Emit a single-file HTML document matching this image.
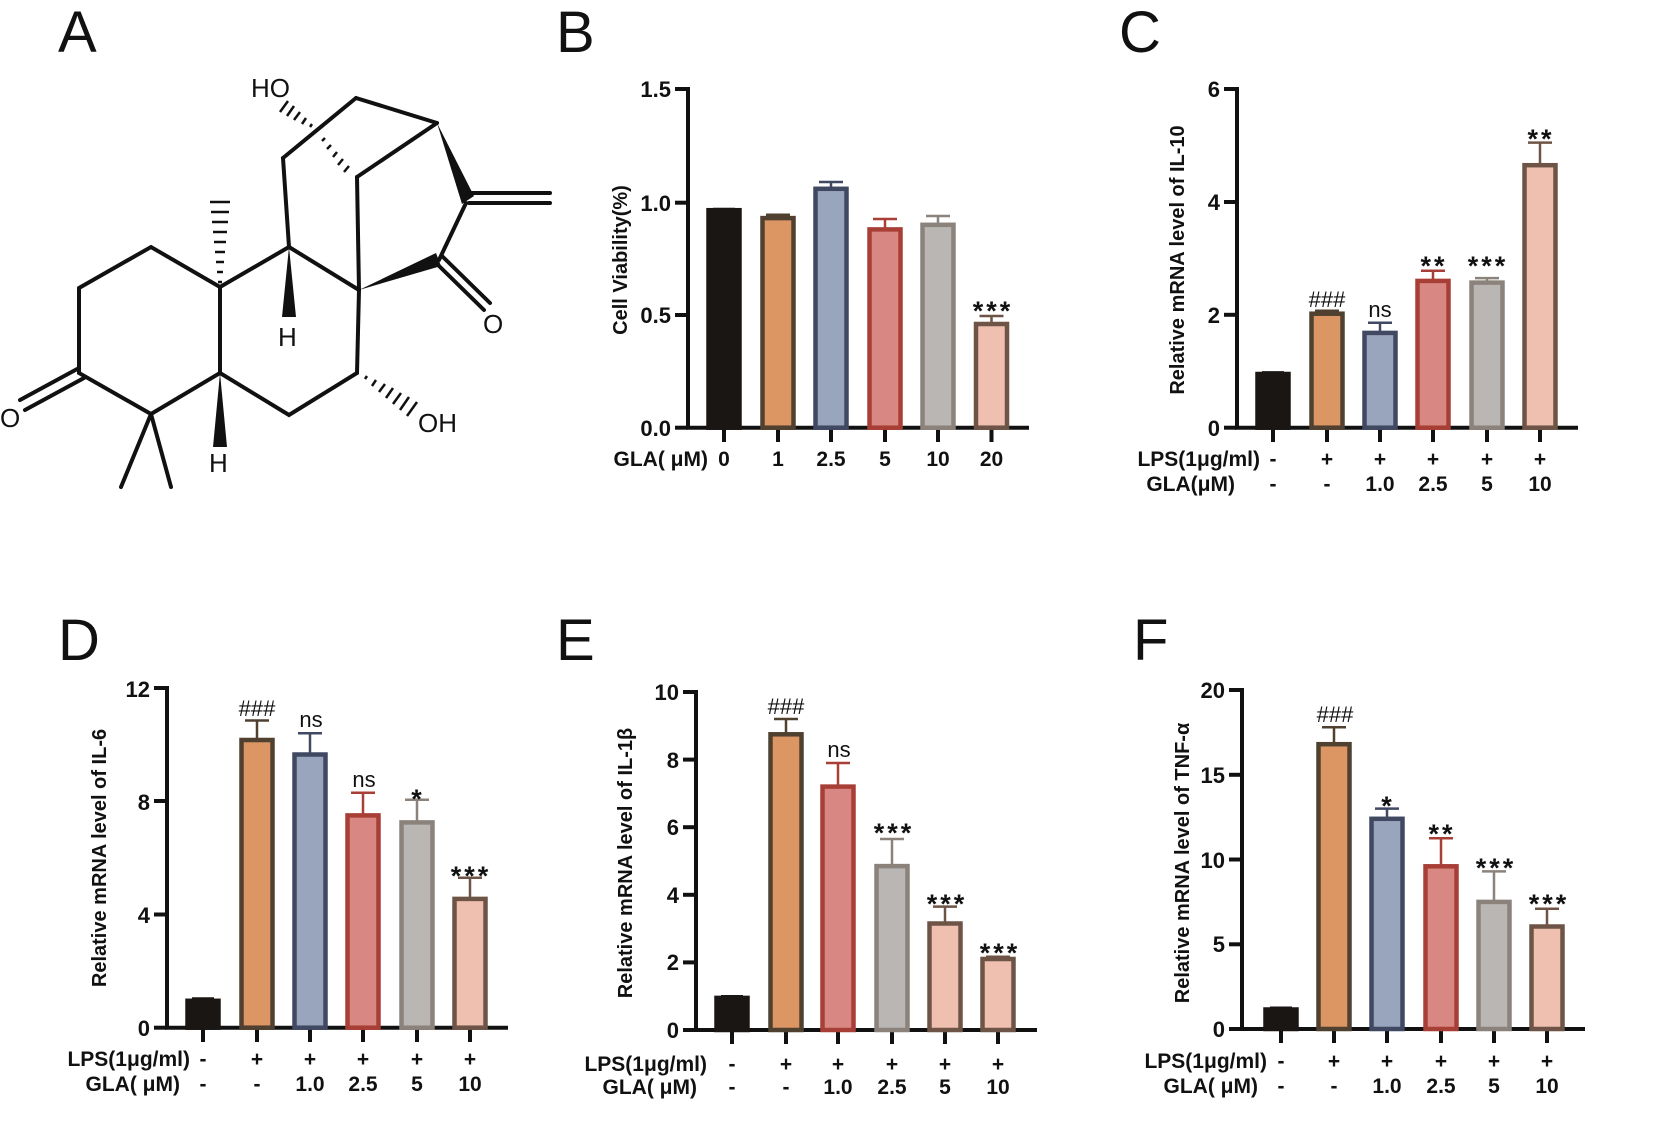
<!DOCTYPE html>
<html><head><meta charset="utf-8"><style>
html,body{margin:0;padding:0;background:#fff;}
svg{display:block;}
text{font-family:"Liberation Sans",Arial,sans-serif;fill:#111;}
.t{font-size:22px;font-weight:bold;}
.x{font-size:21px;font-weight:bold;}
.yl{font-size:20px;font-weight:bold;}
.st{font-size:27px;font-weight:bold;letter-spacing:3px;}
.ns{font-size:22px;}
.L{font-size:58px;}
.at{font-size:26px;}
.K{fill:#1a1614;stroke:#1a1614;stroke-width:4.5}
.O{fill:#dc9664;stroke:#4f4030;stroke-width:4.5}
.B{fill:#99a5bd;stroke:#404862;stroke-width:4.5}
.R{fill:#d98782;stroke:#a83f37;stroke-width:4.5}
.G{fill:#b9b6b3;stroke:#8b827b;stroke-width:4.5}
.P{fill:#efc0b0;stroke:#6e5446;stroke-width:4.5}
.eK{stroke:#1a1614;stroke-width:2.5;fill:none}
.eO{stroke:#4f4030;stroke-width:2.5;fill:none}
.eB{stroke:#404862;stroke-width:2.5;fill:none}
.eR{stroke:#a83f37;stroke-width:2.5;fill:none}
.eG{stroke:#8b827b;stroke-width:2.5;fill:none}
.eP{stroke:#6e5446;stroke-width:2.5;fill:none}
.ax{stroke:#111;stroke-width:4;fill:none}
.m{stroke:#111;stroke-width:4;fill:none;stroke-linecap:round}
</style></head><body>
<svg width="1654" height="1121" viewBox="0 0 1654 1121" xmlns="http://www.w3.org/2000/svg">
<text class="L" x="58" y="52">A</text>
<text class="L" x="556" y="52">B</text>
<text class="L" x="1119" y="52">C</text>
<text class="L" x="58" y="660">D</text>
<text class="L" x="556" y="660">E</text>
<text class="L" x="1133" y="660">F</text>

<g class="m">
<polyline points="79,288 151,247 220,287 220,373 151,414 79,373 79,288"/>
<line x1="151" y1="414" x2="121" y2="487"/>
<line x1="151" y1="414" x2="171" y2="487"/>
<line x1="79" y1="368" x2="20" y2="400"/>
<line x1="84" y1="378" x2="25" y2="410"/>
<polyline points="220,373 289,415 357,373 359,290 289,247 220,287"/>
<line x1="289" y1="247" x2="283" y2="158"/>
<line x1="283" y1="158" x2="356" y2="98"/>
<line x1="356" y1="98" x2="437" y2="123"/>
<line x1="359" y1="290" x2="357" y2="177"/>
<line x1="357" y1="177" x2="437" y2="123"/>
<line x1="469" y1="193" x2="550" y2="193"/>
<line x1="469" y1="203" x2="550" y2="203"/>
<line x1="466" y1="203" x2="439" y2="260"/>
<line x1="436" y1="263" x2="484" y2="310"/>
<line x1="442" y1="256" x2="490" y2="303"/>
</g>
<polygon points="220,373 213,447 227,447" fill="#111"/>
<polygon points="289,247 282,317 296,317" fill="#111"/>
<polygon points="437,123 462,204 474,196" fill="#111"/>
<polygon points="359,290 436,253 441,266" fill="#111"/>
<g stroke="#111" stroke-width="2.5">
<line x1="218" y1="282" x2="222" y2="282"/><line x1="217" y1="272" x2="223" y2="272"/><line x1="216" y1="262" x2="224" y2="262"/><line x1="215" y1="252" x2="225" y2="252"/><line x1="214" y1="242" x2="226" y2="242"/><line x1="213" y1="232" x2="227" y2="232"/><line x1="212" y1="222" x2="228" y2="222"/><line x1="211" y1="212" x2="229" y2="212"/><line x1="210" y1="202" x2="230" y2="202"/>
<line x1="365" y1="379" x2="367" y2="376"/><line x1="372" y1="386" x2="376" y2="380"/><line x1="379" y1="392" x2="385" y2="384"/><line x1="386" y1="398" x2="393" y2="388"/><line x1="393" y1="404" x2="401" y2="393"/><line x1="400" y1="410" x2="409" y2="397"/><line x1="407" y1="416" x2="417" y2="402"/>
<line x1="312" y1="124" x2="310" y2="127"/><line x1="306" y1="118" x2="302" y2="124"/><line x1="300" y1="112" x2="294" y2="120"/><line x1="294" y1="106" x2="287" y2="116"/><line x1="288" y1="101" x2="280" y2="112"/>
<line x1="325" y1="138" x2="322" y2="141"/><line x1="331" y1="145" x2="327" y2="149"/><line x1="337" y1="152" x2="333" y2="157"/><line x1="343" y1="159" x2="338" y2="165"/><line x1="349" y1="166" x2="344" y2="172"/>
</g>
<text class="at" x="0" y="427">O</text>
<text class="at" x="209" y="472">H</text>
<text class="at" x="278" y="346">H</text>
<text class="at" x="418" y="432">OH</text>
<text class="at" x="251" y="97">HO</text>
<text class="at" x="483" y="333">O</text>

<!-- Panel B -->
<g>
<line class="ax" x1="688" y1="87" x2="688" y2="429"/>
<line class="ax" x1="686" y1="427.7" x2="1029" y2="427.7"/>
<g class="ax"><line x1="675" y1="89" x2="688" y2="89"/><line x1="675" y1="202.7" x2="688" y2="202.7"/><line x1="675" y1="315" x2="688" y2="315"/><line x1="675" y1="427.7" x2="688" y2="427.7"/>
<line x1="724" y1="428" x2="724" y2="442"/><line x1="778" y1="428" x2="778" y2="442"/><line x1="831" y1="428" x2="831" y2="442"/><line x1="885" y1="428" x2="885" y2="442"/><line x1="938" y1="428" x2="938" y2="442"/><line x1="991.5" y1="428" x2="991.5" y2="442"/></g>
<text class="t" text-anchor="end" x="671" y="97">1.5</text><text class="t" text-anchor="end" x="671" y="211">1.0</text><text class="t" text-anchor="end" x="671" y="323">0.5</text><text class="t" text-anchor="end" x="671" y="436">0.0</text>
<text class="yl" transform="translate(627,260) rotate(-90)" text-anchor="middle">Cell Viability(%)</text>
<line class="eK" x1="713" y1="209" x2="735" y2="209"/>
<line class="eO" x1="778" y1="218" x2="778" y2="214.7"/><line class="eO" x1="766" y1="214.7" x2="790" y2="214.7"/>
<line class="eB" x1="831" y1="189" x2="831" y2="182"/><line class="eB" x1="819" y1="182" x2="843" y2="182"/>
<line class="eR" x1="885" y1="229" x2="885" y2="219"/><line class="eR" x1="873" y1="219" x2="897" y2="219"/>
<line class="eG" x1="938" y1="225" x2="938" y2="216"/><line class="eG" x1="926" y1="216" x2="950" y2="216"/>
<line class="eP" x1="991.5" y1="324" x2="991.5" y2="316"/><line class="eP" x1="979.5" y1="316" x2="1003.5" y2="316"/>
<rect class="K" x="708.5" y="210.2" width="31" height="217.5"/>
<rect class="O" x="762.5" y="218.1" width="31" height="209.6"/>
<rect class="B" x="815.5" y="188.8" width="31" height="238.9"/>
<rect class="R" x="869.5" y="229.4" width="31" height="198.3"/>
<rect class="G" x="922.5" y="224.8" width="31" height="202.9"/>
<rect class="P" x="976" y="324" width="31" height="103.7"/>
<text class="st" text-anchor="middle" x="993" y="320">***</text>
<text class="x" text-anchor="end" x="708" y="466">GLA( μM)</text>
<text class="x" text-anchor="middle" x="724" y="466">0</text><text class="x" text-anchor="middle" x="778" y="466">1</text><text class="x" text-anchor="middle" x="831" y="466">2.5</text><text class="x" text-anchor="middle" x="885" y="466">5</text><text class="x" text-anchor="middle" x="938" y="466">10</text><text class="x" text-anchor="middle" x="991.5" y="466">20</text>
</g>

<!-- Panel C -->
<g>
<line class="ax" x1="1237" y1="87" x2="1237" y2="429"/>
<line class="ax" x1="1235" y1="427.7" x2="1578" y2="427.7"/>
<g class="ax"><line x1="1224" y1="89" x2="1237" y2="89"/><line x1="1224" y1="202" x2="1237" y2="202"/><line x1="1224" y1="314.8" x2="1237" y2="314.8"/><line x1="1224" y1="427.7" x2="1237" y2="427.7"/>
<line x1="1273" y1="428" x2="1273" y2="442"/><line x1="1327" y1="428" x2="1327" y2="442"/><line x1="1380" y1="428" x2="1380" y2="442"/><line x1="1433" y1="428" x2="1433" y2="442"/><line x1="1487" y1="428" x2="1487" y2="442"/><line x1="1540" y1="428" x2="1540" y2="442"/></g>
<text class="t" text-anchor="end" x="1220" y="97">6</text><text class="t" text-anchor="end" x="1220" y="210">4</text><text class="t" text-anchor="end" x="1220" y="323">2</text><text class="t" text-anchor="end" x="1220" y="436">0</text>
<text class="yl" transform="translate(1184,260) rotate(-90)" text-anchor="middle">Relative mRNA level of IL-10</text>
<line class="eK" x1="1262" y1="372.4" x2="1284" y2="372.4"/>
<line class="eO" x1="1327" y1="313.7" x2="1327" y2="310.8"/><line class="eO" x1="1315" y1="310.8" x2="1339" y2="310.8"/>
<line class="eB" x1="1380" y1="333" x2="1380" y2="322.7"/><line class="eB" x1="1368" y1="322.7" x2="1392" y2="322.7"/>
<line class="eR" x1="1433" y1="281" x2="1433" y2="270.8"/><line class="eR" x1="1421" y1="270.8" x2="1445" y2="270.8"/>
<line class="eG" x1="1487" y1="282.6" x2="1487" y2="278.1"/><line class="eG" x1="1475" y1="278.1" x2="1499" y2="278.1"/>
<line class="eP" x1="1540" y1="165" x2="1540" y2="142.6"/><line class="eP" x1="1528" y1="142.6" x2="1552" y2="142.6"/>
<rect class="K" x="1257.5" y="374" width="31" height="53.7"/>
<rect class="O" x="1311.5" y="313.7" width="31" height="114"/>
<rect class="B" x="1364.5" y="332.9" width="31" height="94.8"/>
<rect class="R" x="1417.5" y="280.9" width="31" height="146.8"/>
<rect class="G" x="1471.5" y="282.6" width="31" height="145.1"/>
<rect class="P" x="1524.5" y="165.2" width="31" height="262.5"/>
<text class="ns" text-anchor="middle" x="1327" y="307">###</text>
<text class="ns" text-anchor="middle" x="1380" y="317">ns</text>
<text class="st" text-anchor="middle" x="1434" y="275">**</text>
<text class="st" text-anchor="middle" x="1488" y="275">***</text>
<text class="st" text-anchor="middle" x="1541" y="148">**</text>
<text class="x" text-anchor="end" x="1260" y="466">LPS(1μg/ml)</text>
<text class="x" text-anchor="end" x="1235" y="491">GLA(μM)</text>
<text class="x" text-anchor="middle" x="1273" y="466">-</text><text class="x" text-anchor="middle" x="1327" y="466">+</text><text class="x" text-anchor="middle" x="1380" y="466">+</text><text class="x" text-anchor="middle" x="1433" y="466">+</text><text class="x" text-anchor="middle" x="1487" y="466">+</text><text class="x" text-anchor="middle" x="1540" y="466">+</text>
<text class="x" text-anchor="middle" x="1273" y="491">-</text><text class="x" text-anchor="middle" x="1327" y="491">-</text><text class="x" text-anchor="middle" x="1380" y="491">1.0</text><text class="x" text-anchor="middle" x="1433" y="491">2.5</text><text class="x" text-anchor="middle" x="1487" y="491">5</text><text class="x" text-anchor="middle" x="1540" y="491">10</text>
</g>

<!-- Panel D -->
<g>
<line class="ax" x1="167" y1="686" x2="167" y2="1029"/>
<line class="ax" x1="165" y1="1027.7" x2="508" y2="1027.7"/>
<g class="ax"><line x1="154" y1="688" x2="167" y2="688"/><line x1="154" y1="801" x2="167" y2="801"/><line x1="154" y1="914.5" x2="167" y2="914.5"/><line x1="154" y1="1027.7" x2="167" y2="1027.7"/>
<line x1="203" y1="1028" x2="203" y2="1042"/><line x1="257" y1="1028" x2="257" y2="1042"/><line x1="310" y1="1028" x2="310" y2="1042"/><line x1="363" y1="1028" x2="363" y2="1042"/><line x1="417" y1="1028" x2="417" y2="1042"/><line x1="470" y1="1028" x2="470" y2="1042"/></g>
<text class="t" text-anchor="end" x="150" y="697">12</text><text class="t" text-anchor="end" x="150" y="810">8</text><text class="t" text-anchor="end" x="150" y="923">4</text><text class="t" text-anchor="end" x="150" y="1036">0</text>
<text class="yl" transform="translate(106,858) rotate(-90)" text-anchor="middle">Relative mRNA level of IL-6</text>
<line class="eK" x1="192" y1="998.5" x2="214" y2="998.5"/>
<line class="eO" x1="257" y1="739" x2="257" y2="720.5"/><line class="eO" x1="245" y1="720.5" x2="269" y2="720.5"/>
<line class="eB" x1="310" y1="754" x2="310" y2="733.3"/><line class="eB" x1="298" y1="733.3" x2="322" y2="733.3"/>
<line class="eR" x1="363" y1="815" x2="363" y2="792.7"/><line class="eR" x1="351" y1="792.7" x2="375" y2="792.7"/>
<line class="eG" x1="417" y1="822" x2="417" y2="799.8"/><line class="eG" x1="405" y1="799.8" x2="429" y2="799.8"/>
<line class="eP" x1="470" y1="899" x2="470" y2="877.7"/><line class="eP" x1="458" y1="877.7" x2="482" y2="877.7"/>
<rect class="K" x="187.5" y="1000.8" width="31" height="26.9"/>
<rect class="O" x="241.5" y="740" width="31" height="287.7"/>
<rect class="B" x="294.5" y="754.5" width="31" height="273.2"/>
<rect class="R" x="347.5" y="815.4" width="31" height="212.3"/>
<rect class="G" x="401.5" y="822.4" width="31" height="205.3"/>
<rect class="P" x="454.5" y="898.9" width="31" height="128.8"/>
<text class="ns" text-anchor="middle" x="257" y="716">###</text>
<text class="ns" text-anchor="middle" x="311" y="727">ns</text>
<text class="ns" text-anchor="middle" x="364" y="787">ns</text>
<text class="st" text-anchor="middle" x="418" y="808">*</text>
<text class="st" text-anchor="middle" x="471" y="885">***</text>
<text class="x" text-anchor="end" x="190" y="1066">LPS(1μg/ml)</text>
<text class="x" text-anchor="end" x="180" y="1091">GLA( μM)</text>
<text class="x" text-anchor="middle" x="203" y="1066">-</text><text class="x" text-anchor="middle" x="257" y="1066">+</text><text class="x" text-anchor="middle" x="310" y="1066">+</text><text class="x" text-anchor="middle" x="363" y="1066">+</text><text class="x" text-anchor="middle" x="417" y="1066">+</text><text class="x" text-anchor="middle" x="470" y="1066">+</text>
<text class="x" text-anchor="middle" x="203" y="1091">-</text><text class="x" text-anchor="middle" x="257" y="1091">-</text><text class="x" text-anchor="middle" x="310" y="1091">1.0</text><text class="x" text-anchor="middle" x="363" y="1091">2.5</text><text class="x" text-anchor="middle" x="417" y="1091">5</text><text class="x" text-anchor="middle" x="470" y="1091">10</text>
</g>

<!-- Panel E -->
<g>
<line class="ax" x1="696" y1="690" x2="696" y2="1032"/>
<line class="ax" x1="694" y1="1030" x2="1037" y2="1030"/>
<g class="ax"><line x1="683" y1="692" x2="696" y2="692"/><line x1="683" y1="759.6" x2="696" y2="759.6"/><line x1="683" y1="827.2" x2="696" y2="827.2"/><line x1="683" y1="894.8" x2="696" y2="894.8"/><line x1="683" y1="962.4" x2="696" y2="962.4"/><line x1="683" y1="1030" x2="696" y2="1030"/>
<line x1="732" y1="1030" x2="732" y2="1044"/><line x1="786" y1="1030" x2="786" y2="1044"/><line x1="838" y1="1030" x2="838" y2="1044"/><line x1="892" y1="1030" x2="892" y2="1044"/><line x1="945" y1="1030" x2="945" y2="1044"/><line x1="998" y1="1030" x2="998" y2="1044"/></g>
<text class="t" text-anchor="end" x="679" y="700">10</text><text class="t" text-anchor="end" x="679" y="768">8</text><text class="t" text-anchor="end" x="679" y="835">6</text><text class="t" text-anchor="end" x="679" y="903">4</text><text class="t" text-anchor="end" x="679" y="970">2</text><text class="t" text-anchor="end" x="679" y="1038">0</text>
<text class="yl" transform="translate(632,863) rotate(-90)" text-anchor="middle">Relative mRNA level of IL-1β</text>
<line class="eK" x1="721" y1="996.2" x2="743" y2="996.2"/>
<line class="eO" x1="786" y1="734" x2="786" y2="719"/><line class="eO" x1="774" y1="719" x2="798" y2="719"/>
<line class="eR" x1="838" y1="786" x2="838" y2="763"/><line class="eR" x1="826" y1="763" x2="850" y2="763"/>
<line class="eG" x1="892" y1="866" x2="892" y2="839"/><line class="eG" x1="880" y1="839" x2="904" y2="839"/>
<line class="eP" x1="945" y1="923" x2="945" y2="906.6"/><line class="eP" x1="933" y1="906.6" x2="957" y2="906.6"/>
<line class="eP" x1="998" y1="959" x2="998" y2="956.7"/><line class="eP" x1="986" y1="956.7" x2="1010" y2="956.7"/>
<rect class="K" x="716.5" y="997.9" width="31" height="32.1"/>
<rect class="O" x="770.5" y="734.3" width="31" height="295.7"/>
<rect class="R" x="822.5" y="786.6" width="31" height="243.4"/>
<rect class="G" x="876.5" y="866.1" width="31" height="163.9"/>
<rect class="P" x="929.5" y="923.5" width="31" height="106.5"/>
<rect class="P" x="982.5" y="959" width="31" height="71"/>
<text class="ns" text-anchor="middle" x="786" y="714">###</text>
<text class="ns" text-anchor="middle" x="839" y="757">ns</text>
<text class="st" text-anchor="middle" x="894" y="842">***</text>
<text class="st" text-anchor="middle" x="947" y="913">***</text>
<text class="st" text-anchor="middle" x="1000" y="962">***</text>
<text class="x" text-anchor="end" x="707" y="1071">LPS(1μg/ml)</text>
<text class="x" text-anchor="end" x="697" y="1094">GLA( μM)</text>
<text class="x" text-anchor="middle" x="732" y="1071">-</text><text class="x" text-anchor="middle" x="786" y="1071">+</text><text class="x" text-anchor="middle" x="838" y="1071">+</text><text class="x" text-anchor="middle" x="892" y="1071">+</text><text class="x" text-anchor="middle" x="945" y="1071">+</text><text class="x" text-anchor="middle" x="998" y="1071">+</text>
<text class="x" text-anchor="middle" x="732" y="1094">-</text><text class="x" text-anchor="middle" x="786" y="1094">-</text><text class="x" text-anchor="middle" x="838" y="1094">1.0</text><text class="x" text-anchor="middle" x="892" y="1094">2.5</text><text class="x" text-anchor="middle" x="945" y="1094">5</text><text class="x" text-anchor="middle" x="998" y="1094">10</text>
</g>

<!-- Panel F -->
<g>
<line class="ax" x1="1242" y1="688" x2="1242" y2="1031"/>
<line class="ax" x1="1240" y1="1029" x2="1585" y2="1029"/>
<g class="ax"><line x1="1229" y1="690" x2="1242" y2="690"/><line x1="1229" y1="774.8" x2="1242" y2="774.8"/><line x1="1229" y1="859.5" x2="1242" y2="859.5"/><line x1="1229" y1="944.3" x2="1242" y2="944.3"/><line x1="1229" y1="1029" x2="1242" y2="1029"/>
<line x1="1281" y1="1029" x2="1281" y2="1043"/><line x1="1334" y1="1029" x2="1334" y2="1043"/><line x1="1387" y1="1029" x2="1387" y2="1043"/><line x1="1441" y1="1029" x2="1441" y2="1043"/><line x1="1494" y1="1029" x2="1494" y2="1043"/><line x1="1547" y1="1029" x2="1547" y2="1043"/></g>
<text class="t" text-anchor="end" x="1225" y="698">20</text><text class="t" text-anchor="end" x="1225" y="783">15</text><text class="t" text-anchor="end" x="1225" y="868">10</text><text class="t" text-anchor="end" x="1225" y="952">5</text><text class="t" text-anchor="end" x="1225" y="1037">0</text>
<text class="yl" transform="translate(1189,863) rotate(-90)" text-anchor="middle">Relative mRNA level of TNF-α</text>
<line class="eK" x1="1270" y1="1007.8" x2="1292" y2="1007.8"/>
<line class="eO" x1="1334" y1="744" x2="1334" y2="727.3"/><line class="eO" x1="1322" y1="727.3" x2="1346" y2="727.3"/>
<line class="eB" x1="1387" y1="819" x2="1387" y2="808.6"/><line class="eB" x1="1375" y1="808.6" x2="1399" y2="808.6"/>
<line class="eR" x1="1441" y1="866" x2="1441" y2="838.3"/><line class="eR" x1="1429" y1="838.3" x2="1453" y2="838.3"/>
<line class="eG" x1="1494" y1="902" x2="1494" y2="871.4"/><line class="eG" x1="1482" y1="871.4" x2="1506" y2="871.4"/>
<line class="eP" x1="1547" y1="926" x2="1547" y2="908.7"/><line class="eP" x1="1535" y1="908.7" x2="1559" y2="908.7"/>
<rect class="K" x="1265.5" y="1009.5" width="31" height="19.5"/>
<rect class="O" x="1318.5" y="744.2" width="31" height="284.8"/>
<rect class="B" x="1371.5" y="818.8" width="31" height="210.2"/>
<rect class="R" x="1425.5" y="866.3" width="31" height="162.7"/>
<rect class="G" x="1478.5" y="901.9" width="31" height="127.1"/>
<rect class="P" x="1531.5" y="926.5" width="31" height="102.5"/>
<text class="ns" text-anchor="middle" x="1335" y="722">###</text>
<text class="st" text-anchor="middle" x="1388" y="815">*</text>
<text class="st" text-anchor="middle" x="1442" y="843">**</text>
<text class="st" text-anchor="middle" x="1496" y="877">***</text>
<text class="st" text-anchor="middle" x="1549" y="913">***</text>
<text class="x" text-anchor="end" x="1267" y="1068">LPS(1μg/ml)</text>
<text class="x" text-anchor="end" x="1258" y="1093">GLA( μM)</text>
<text class="x" text-anchor="middle" x="1281" y="1068">-</text><text class="x" text-anchor="middle" x="1334" y="1068">+</text><text class="x" text-anchor="middle" x="1387" y="1068">+</text><text class="x" text-anchor="middle" x="1441" y="1068">+</text><text class="x" text-anchor="middle" x="1494" y="1068">+</text><text class="x" text-anchor="middle" x="1547" y="1068">+</text>
<text class="x" text-anchor="middle" x="1281" y="1093">-</text><text class="x" text-anchor="middle" x="1334" y="1093">-</text><text class="x" text-anchor="middle" x="1387" y="1093">1.0</text><text class="x" text-anchor="middle" x="1441" y="1093">2.5</text><text class="x" text-anchor="middle" x="1494" y="1093">5</text><text class="x" text-anchor="middle" x="1547" y="1093">10</text>
</g>
</svg>
</body></html>
